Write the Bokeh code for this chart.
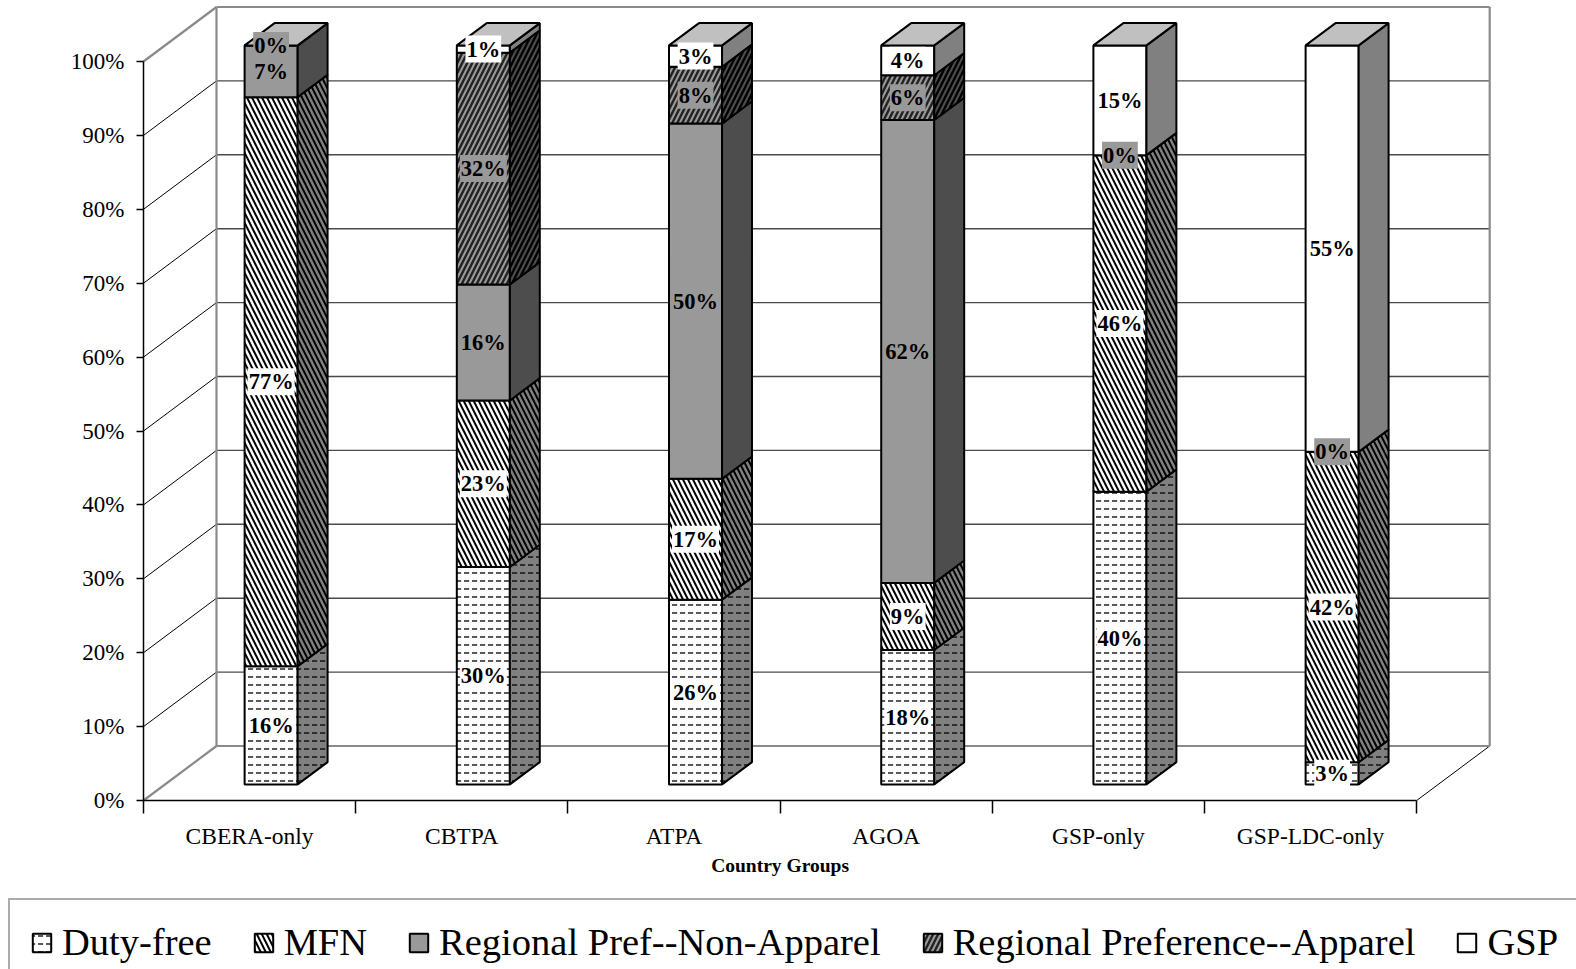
from bokeh.plotting import figure
from bokeh.models import (Range1d, LinearAxis, FixedTicker, PrintfTickFormatter,
                          Legend, LegendItem, ColumnDataSource)
from bokeh.core.properties import value
from bokeh.embed import file_html
from bokeh.resources import INLINE

# ---------------- data ----------------
categories = ["CBERA-only", "CBTPA", "ATPA", "AGOA", "GSP-only", "GSP-LDC-only"]
series_labels = ["Duty-free", "MFN", "Regional Pref--Non-Apparel",
                 "Regional Preference--Apparel", "GSP"]
duty_free = [16, 30, 26, 18, 40, 3]
mfn = [77, 23, 17, 9, 46, 42]
regional_non_apparel = [7, 16, 50, 62, 0, 0]
regional_apparel = [0, 32, 8, 6, None, None]
gsp = [None, 1, 3, 4, 15, 55]
y_ticks = [0, 10, 20, 30, 40, 50, 60, 70, 80, 90, 100]
x_title = "Country Groups"

# ---------------- layout / geometry ----------------
FIG_W, FIG_H = 1576, 969
ORIGIN_X, ORIGIN_Y = 143, 800   # pixel position of (first category edge, 0%)
PX_CAT = 212.2          # px per category on the front plane
PX_PCT = 7.39           # px per percent
DX = 73 / PX_CAT        # depth offset (category units)
DY = 54.5 / PX_PCT      # depth offset (percent units)
BAR_W = 0.25
D0, D1 = 0.295, 0.705
FONT = "Liberation Serif"

styles = [
    dict(front="white", side="#808080", hatch="horizontal_dash", hcol="black", hcol_side="black", scale=8, weight=1.3, lbg="white"),
    dict(front="white", side="#808080", hatch="left_diagonal_line", hcol="black", hcol_side="black", scale=10, weight=2.0, lbg="white"),
    dict(front="#999999", side="#4d4d4d", hatch=None, lbg="#999999"),
    dict(front="#999999", side="#4d4d4d", hatch="right_diagonal_line", hcol="#222222", hcol_side="black", scale=10, weight=2.4, lbg="#999999"),
    dict(front="white", side="#808080", hatch=None, lbg="white"),
]

def hatch_kw(st, side=False):
    if not st["hatch"]:
        return {}
    return dict(hatch_pattern=st["hatch"],
                hatch_color=st["hcol_side"] if side else st["hcol"],
                hatch_scale=st["scale"], hatch_weight=st["weight"])

n_cat = len(categories)
top_val = y_ticks[-1]
grid_vals = y_ticks[1:-1]
centers = [i + 0.5 for i in range(n_cat)]
bounds_ticks = [i for i in range(n_cat + 1)]

x_range = Range1d(-ORIGIN_X / PX_CAT, (FIG_W - ORIGIN_X) / PX_CAT)
y_range = Range1d(-(FIG_H - ORIGIN_Y) / PX_PCT, ORIGIN_Y / PX_PCT)

p = figure(width=FIG_W, height=FIG_H, x_range=x_range, y_range=y_range,
           x_axis_type=None, y_axis_type=None, toolbar_location=None,
           output_backend="svg", min_border_left=0, min_border_right=0,
           min_border_top=0, min_border_bottom=0, outline_line_color=None,
           background_fill_color="white", border_fill_color="white")

yaxis = LinearAxis(fixed_location=0, bounds=(0, top_val),
                   ticker=FixedTicker(ticks=y_ticks, minor_ticks=[]),
                   formatter=PrintfTickFormatter(format="%d%%"),
                   axis_line_color="black", axis_line_width=1.5,
                   major_tick_out=7, major_tick_in=0, minor_tick_out=0, minor_tick_in=0,
                   major_tick_line_color="black", major_tick_line_width=1.5,
                   major_label_text_font=FONT, major_label_text_font_size="23px",
                   major_label_text_color="black", major_label_standoff=12)
p.add_layout(yaxis, "left")

xaxis = LinearAxis(fixed_location=0, bounds=(0, n_cat),
                   ticker=FixedTicker(ticks=centers, minor_ticks=bounds_ticks),
                   major_label_overrides={c: name for c, name in zip(centers, categories)},
                   axis_line_color="black", axis_line_width=1.5,
                   major_tick_out=0, major_tick_in=0,
                   minor_tick_out=13, minor_tick_in=0,
                   minor_tick_line_color="black", minor_tick_line_width=1.5,
                   major_label_text_font=FONT, major_label_text_font_size="23.5px",
                   major_label_text_color="black", major_label_standoff=9)
p.add_layout(xaxis, "below")

title_pos = n_cat / 2
xtitle = LinearAxis(fixed_location=0,
                    ticker=FixedTicker(ticks=[title_pos], minor_ticks=[]),
                    major_label_overrides={title_pos: x_title},
                    axis_line_color=None, major_tick_line_color=None,
                    major_tick_out=0, major_tick_in=0, minor_tick_out=0, minor_tick_in=0,
                    major_label_text_font=FONT, major_label_text_font_style="bold",
                    major_label_text_font_size="19.5px", major_label_text_color="black",
                    major_label_standoff=54)
p.add_layout(xtitle, "below")

def new_segs():
    return dict(x0=[], y0=[], x1=[], y1=[])
def add_seg(d, a, b):
    d["x0"].append(a[0]); d["y0"].append(a[1]); d["x1"].append(b[0]); d["y1"].append(b[1])
def proj(x, y, d):
    return (x + d * DX, y + d * DY)

wall = new_segs()
add_seg(wall, proj(0, 0, 1), proj(0, top_val, 1))
add_seg(wall, proj(0, top_val, 1), proj(n_cat, top_val, 1))
add_seg(wall, proj(n_cat, 0, 1), proj(n_cat, top_val, 1))
add_seg(wall, proj(0, 0, 1), proj(n_cat, 0, 1))
add_seg(wall, proj(0, top_val, 0), proj(0, top_val, 1))
add_seg(wall, proj(0, 0, 0), proj(0, 0, 1))

back_grid = new_segs()
side_grid = new_segs()
for v in grid_vals:
    add_seg(back_grid, proj(0, v, 1), proj(n_cat, v, 1))
    add_seg(side_grid, proj(0, v, 0), proj(0, v, 1))
add_seg(side_grid, proj(n_cat, 0, 0), proj(n_cat, 0, 1))

p.segment(source=ColumnDataSource(back_grid), x0="x0", y0="y0", x1="x1", y1="y1",
          line_color="#4a4a4a", line_width=1.4)
p.segment(source=ColumnDataSource(side_grid), x0="x0", y0="y0", x1="x1", y1="y1",
          line_color="black", line_width=1)
p.segment(source=ColumnDataSource(wall), x0="x0", y0="y0", x1="x1", y1="y1",
          line_color="#8a8a8a", line_width=2.2)

series = [duty_free, mfn, regional_non_apparel, regional_apparel, gsp]
totals = [sum(s[i] for s in series if s[i] is not None) for i in range(n_cat)]

base = [0.0] * n_cat
front_renderers = []
label_sources = []
for k, s in enumerate(series):
    st = styles[k]
    fr = dict(left=[], right=[], bottom=[], top=[])
    sd = dict(xs=[], ys=[])
    lb = dict(x=[], y=[], text=[])
    for i in range(n_cat):
        if s[i] is None:
            continue
        h = s[i] / totals[i] * 100.0
        b = base[i]
        t = b + h
        base[i] = t
        cx = centers[i]
        x0, x1 = cx - BAR_W / 2, cx + BAR_W / 2
        fr["left"].append(x0 + D0 * DX); fr["right"].append(x1 + D0 * DX)
        fr["bottom"].append(b + D0 * DY); fr["top"].append(t + D0 * DY)
        pts = [proj(x1, b, D0), proj(x1, b, D1), proj(x1, t, D1), proj(x1, t, D0)]
        sd["xs"].append([q[0] for q in pts]); sd["ys"].append([q[1] for q in pts])
        lb["x"].append(cx + D0 * DX); lb["y"].append((b + t) / 2 + D0 * DY)
        lb["text"].append(f"{s[i]}%")
    r = p.quad(source=ColumnDataSource(fr), left="left", right="right", bottom="bottom", top="top",
               fill_color=st["front"], line_color="black", line_width=2, **hatch_kw(st))
    front_renderers.append(r)
    p.patches(source=ColumnDataSource(sd), xs="xs", ys="ys", fill_color=st["side"],
              line_color="black", line_width=2, **hatch_kw(st, side=True))
    label_sources.append((lb, st["lbg"]))

tops = dict(xs=[], ys=[])
for i in range(n_cat):
    cx = centers[i]
    x0, x1 = cx - BAR_W / 2, cx + BAR_W / 2
    pts = [proj(x0, top_val, D0), proj(x1, top_val, D0), proj(x1, top_val, D1), proj(x0, top_val, D1)]
    tops["xs"].append([q[0] for q in pts]); tops["ys"].append([q[1] for q in pts])
p.patches(source=ColumnDataSource(tops), xs="xs", ys="ys", fill_color="#c0c0c0",
          line_color="black", line_width=2)

for lb, bg in label_sources:
    p.text(source=ColumnDataSource(lb), x="x", y="y", text="text",
           text_font=value(FONT), text_font_style="bold", text_font_size="22.5px",
           text_color="black", text_align="center", text_baseline="middle",
           background_fill_color=bg, padding=1)

legend = Legend(items=[LegendItem(label=series_labels[k], renderers=[front_renderers[k]])
                       for k in range(len(series_labels))],
                orientation="horizontal", location=(8, -17),
                label_text_font=FONT, label_text_font_size="38.5px",
                label_text_color="black", glyph_width=23, glyph_height=23,
                label_standoff=9, spacing=40, padding=20, margin=0,
                border_line_color="#5a5a5a", border_line_width=2,
                background_fill_color="white", background_fill_alpha=1.0)
p.add_layout(legend)

open("out.html", "w").write(file_html(p, INLINE))
